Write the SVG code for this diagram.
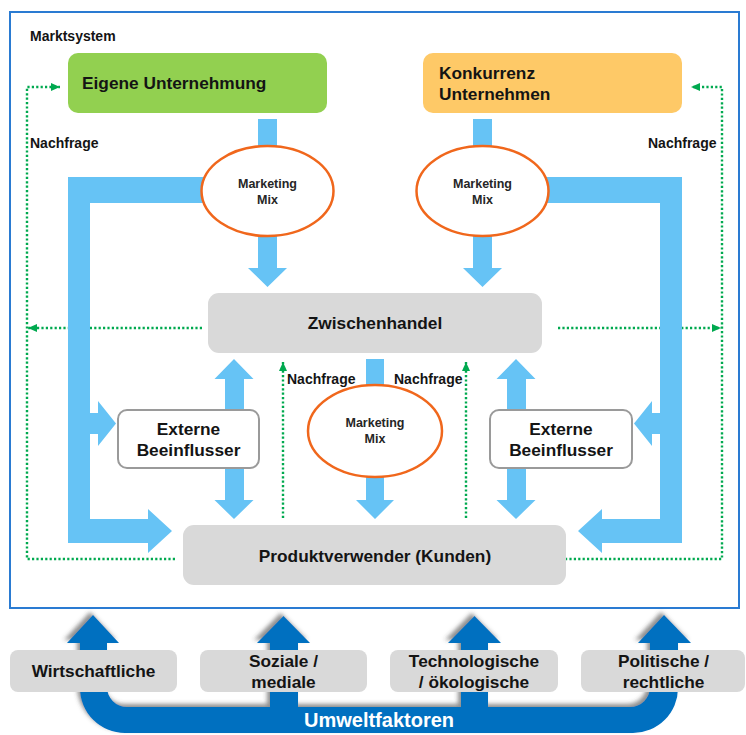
<svg xmlns="http://www.w3.org/2000/svg" width="746" height="735" viewBox="0 0 746 735">
  <defs>
    <style>
      text { font-family: "Liberation Sans", Arial, sans-serif; font-weight: bold; fill: #141414; text-anchor: middle; }
      .lbl { font-size: 17.3px; }
      .small { font-size: 14px; text-anchor: start; }
      .mix { font-size: 12.5px; fill: #262626; }
      .flow { fill: #66c3f5; }
      .gray { fill: #d9d9d9; }
      .mm { fill: #ffffff; stroke: #f0671c; stroke-width: 2.5; }
      .ext { fill: #ffffff; stroke: #9a9a9a; stroke-width: 2; }
      .demand { fill: none; stroke: #00a94f; stroke-width: 2.4; stroke-dasharray: 2.2 2.2; }
    </style>
    <marker id="gh" markerUnits="userSpaceOnUse" markerWidth="10" markerHeight="10" refX="9" refY="4" orient="auto">
      <path d="M0,0 L9,4 L0,8 Z" fill="#00a94f"/>
    </marker>
    <filter id="sh" x="-10%" y="-30%" width="120%" height="160%">
      <feDropShadow dx="-3" dy="-3" stdDeviation="2" flood-color="#444" flood-opacity="0.6"/>
    </filter>
  </defs>

  <rect width="746" height="735" fill="#ffffff"/>

  <!-- market system frame -->
  <rect id="marktsystem" x="10" y="12" width="729" height="596" fill="none" stroke="#2a7bd2" stroke-width="2"/>
  <text class="small" x="30" y="41">Marktsystem</text>

  <!-- demand feedback (dotted) -->
  <g id="connectors-demand">
    <path class="demand" d="M175,559 H27 V87 H60" marker-end="url(#gh)"/>
    <path class="demand" d="M202,328 H28" marker-end="url(#gh)"/>
    <path class="demand" d="M565,559 H722 V87 H691" marker-end="url(#gh)"/>
    <path class="demand" d="M558,328 H721" marker-end="url(#gh)"/>
    <path class="demand" d="M283,518 V362" marker-end="url(#gh)"/>
    <path class="demand" d="M466,518 V362" marker-end="url(#gh)"/>
  </g>

  <!-- supply flows (light blue) -->
  <g id="connectors-flow">
    <path class="flow" d="M270,177 H68 V543 H148 V553 L172,531 L148,509 V519 H90 V434 H98 V446 L116,423.5 L98,401 V413 H90 V203 H270 Z"/>
    <path class="flow" d="M480,177 H682 V543 H602 V553 L578,531 L602,509 V519 H660 V434 H652 V446 L634,423.5 L652,401 V413 H660 V203 H480 Z"/>
    <path class="flow" d="M258,119 H277 V268 H287 L267.5,287 L248,268 H258 Z"/>
    <path class="flow" d="M473,119 H492 V268 H502 L482.5,287 L463,268 H473 Z"/>
    <path class="flow" d="M234,359 L253.5,379 H244 V500 H253.5 L234,519 L214.5,500 H225 V379 H214.5 Z"/>
    <path class="flow" d="M516,359 L535.5,379 H526 V500 H535.5 L516,519 L496.5,500 H507 V379 H496.5 Z"/>
    <path class="flow" d="M366,359 H384 V500 H394 L375,519 L356,500 H366 Z"/>
  </g>

  <text class="small" x="30" y="148">Nachfrage</text>
  <text class="small" x="648" y="148">Nachfrage</text>
  <text class="small" x="287" y="384">Nachfrage</text>
  <text class="small" x="394" y="384">Nachfrage</text>

  <g id="eigene-unternehmung">
    <rect x="68" y="53" width="259" height="60" rx="10" fill="#92d050"/>
    <text class="lbl" x="82" y="89" style="text-anchor:start">Eigene Unternehmung</text>
  </g>

  <g id="konkurrenz-unternehmen">
    <rect x="423" y="53" width="259" height="60" rx="10" fill="#fec967"/>
    <text class="lbl" x="439" y="79" style="text-anchor:start">Konkurrenz</text>
    <text class="lbl" x="439" y="100" style="text-anchor:start">Unternehmen</text>
  </g>

  <g id="marketing-mix-eigene">
    <ellipse class="mm" cx="267.5" cy="191" rx="66" ry="45"/>
    <text class="mix" x="267.5" y="188">Marketing</text>
    <text class="mix" x="267.5" y="204">Mix</text>
  </g>

  <g id="marketing-mix-konkurrenz">
    <ellipse class="mm" cx="482.5" cy="191" rx="66" ry="45"/>
    <text class="mix" x="482.5" y="188">Marketing</text>
    <text class="mix" x="482.5" y="204">Mix</text>
  </g>

  <g id="zwischenhandel">
    <rect class="gray" x="208" y="293" width="334" height="60" rx="11"/>
    <text class="lbl" x="375" y="329">Zwischenhandel</text>
  </g>

  <g id="marketing-mix-handel">
    <ellipse class="mm" cx="375" cy="431" rx="67" ry="46"/>
    <text class="mix" x="375" y="427">Marketing</text>
    <text class="mix" x="375" y="443">Mix</text>
  </g>

  <g id="externe-beeinflusser-links">
    <rect class="ext" x="118" y="410" width="141" height="58" rx="9"/>
    <text class="lbl" x="188.5" y="435">Externe</text>
    <text class="lbl" x="188.5" y="456">Beeinflusser</text>
  </g>

  <g id="externe-beeinflusser-rechts">
    <rect class="ext" x="490" y="410" width="142" height="58" rx="9"/>
    <text class="lbl" x="561" y="435">Externe</text>
    <text class="lbl" x="561" y="456">Beeinflusser</text>
  </g>

  <g id="produktverwender">
    <rect class="gray" x="183" y="525" width="383" height="60" rx="11"/>
    <text class="lbl" x="375" y="562">Produktverwender (Kunden)</text>
  </g>

  <!-- environmental factors -->
  <g id="umweltfaktoren">
    <path filter="url(#sh)" fill="#0070c0" d="M93,615 L119,643 H107 V687 A20,20 0 0 0 127,707 H270 V643 H257 L283.5,616 L310,643 H298 V707 H461 V643 H448 L474.5,616 L501,643 H488 V707 H630 A20,20 0 0 0 650,687 V643 H638 L664,615 L691,643 H678 V688 A45,45 0 0 1 633,733 H125 A45,45 0 0 1 80,688 V643 H67 Z"/>
    <text x="379" y="727" style="font-size:20px; fill:#ffffff">Umweltfaktoren</text>
  </g>

  <g id="wirtschaftliche">
    <rect class="gray" x="10" y="650" width="167" height="42" rx="8"/>
    <text class="lbl" x="93.5" y="677">Wirtschaftliche</text>
  </g>
  <g id="soziale-mediale">
    <rect class="gray" x="200" y="650" width="167" height="42" rx="8"/>
    <text class="lbl" x="283.5" y="667">Soziale /</text>
    <text class="lbl" x="283.5" y="688">mediale</text>
  </g>
  <g id="technologische-oekologische">
    <rect class="gray" x="390" y="650" width="168" height="42" rx="8"/>
    <text class="lbl" x="474" y="667">Technologische</text>
    <text class="lbl" x="474" y="688">/ ökologische</text>
  </g>
  <g id="politische-rechtliche">
    <rect class="gray" x="581" y="650" width="164" height="42" rx="8"/>
    <text class="lbl" x="663.5" y="667">Politische /</text>
    <text class="lbl" x="663.5" y="688">rechtliche</text>
  </g>
</svg>
